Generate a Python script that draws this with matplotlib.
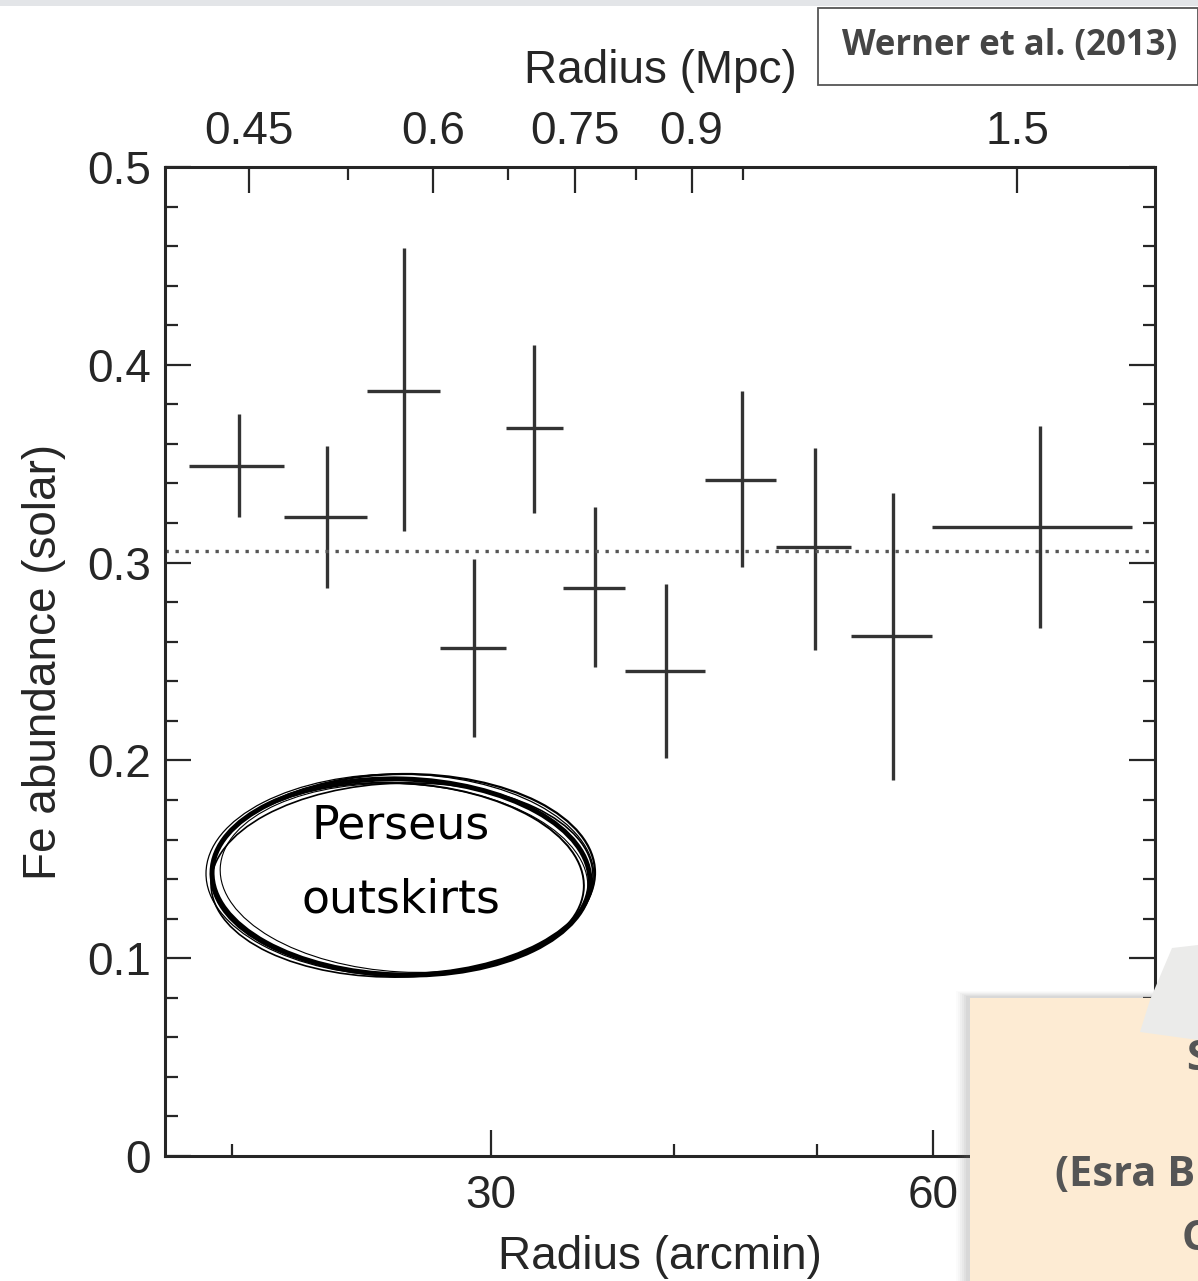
import numpy as np
import matplotlib.pyplot as plt
from matplotlib.patches import Ellipse, Rectangle, Polygon
from matplotlib.ticker import MultipleLocator, NullFormatter

# Fe abundance in radial bins (arcmin) for the Perseus outskirts
r_lo = [18.7, 21.7, 24.7, 27.7, 30.7, 33.6, 37.0, 42.0, 46.9, 52.8, 59.9]
r_hi = [21.7, 24.7, 27.7, 30.7, 33.6, 37.0, 42.0, 46.9, 52.8, 59.9, 82.0]
r_mid = [20.2, 23.2, 26.2, 29.2, 32.1, 35.3, 39.5, 44.5, 49.9, 56.4, 71.0]
fe = [0.349, 0.323, 0.387, 0.257, 0.368, 0.287, 0.245, 0.342, 0.308, 0.263, 0.318]
fe_lo = [0.323, 0.287, 0.316, 0.212, 0.325, 0.247, 0.201, 0.298, 0.256, 0.190, 0.267]
fe_hi = [0.375, 0.359, 0.459, 0.302, 0.410, 0.328, 0.289, 0.387, 0.358, 0.335, 0.369]
fe_mean = 0.306

arcmin_major = [30, 60]
arcmin_minor = [20, 40, 50, 70, 80]
mpc_major = [0.45, 0.6, 0.75, 0.9, 1.5]
mpc_minor = [0.525, 0.675, 0.825, 0.975]
mpc_per_arcmin = 0.0219
y_major = [0, 0.1, 0.2, 0.3, 0.4, 0.5]
y_labels = ['0', '0.1', '0.2', '0.3', '0.4', '0.5']

ink = '#262626'
plt.rcParams['font.family'] = ['Liberation Sans', 'DejaVu Sans']
plt.rcParams['font.size'] = 33

W, H = 1198, 1281
fig = plt.figure(figsize=(W / 100, H / 100), dpi=100)
ax = fig.add_axes([165 / W, 1 - 1156 / H, 990 / W, 989 / H])

r_mid = np.array(r_mid)
fe = np.array(fe)
xerr = [r_mid - np.array(r_lo), np.array(r_hi) - r_mid]
yerr = [fe - np.array(fe_lo), np.array(fe_hi) - fe]
ax.errorbar(r_mid, fe, xerr=xerr, yerr=yerr, fmt='none',
            ecolor='#333333', elinewidth=2.4, capsize=0)
ax.axhline(fe_mean, color='#555555', lw=2.4, ls=(0, (1, 2.0)))

ax.set_xscale('log')
ax.set_xlim(18, 85)
ax.set_ylim(0, 0.5)

ax.set_xticks(arcmin_major)
ax.set_xticklabels([str(v) for v in arcmin_major])
ax.set_xticks(arcmin_minor, minor=True)
ax.xaxis.set_minor_formatter(NullFormatter())
ax.set_yticks(y_major)
ax.set_yticklabels(y_labels)
ax.yaxis.set_minor_locator(MultipleLocator(0.02))

ax.tick_params(axis='x', which='both', direction='in', top=False, bottom=True,
               colors=ink, labelcolor=ink)
ax.tick_params(axis='x', which='major', length=19, width=1.6, pad=13)
ax.tick_params(axis='x', which='minor', length=9, width=1.6)
ax.tick_params(axis='y', which='both', direction='in', left=True, right=True,
               colors=ink, labelcolor=ink)
ax.tick_params(axis='y', which='major', length=19, width=1.6, pad=10)
ax.tick_params(axis='y', which='minor', length=9, width=1.6)
for s in ax.spines.values():
    s.set_linewidth(2.2)
    s.set_color(ink)

ax.set_xlabel('Radius (arcmin)', color=ink, labelpad=12)
ax.set_ylabel('Fe abundance (solar)', color=ink, labelpad=15)

# top axis in Mpc
ax2 = ax.twiny()
ax2.set_xscale('log')
ax2.set_xlim(ax.get_xlim())
ax2.set_xticks([m / mpc_per_arcmin for m in mpc_major])
ax2.set_xticklabels([f'{m:g}' for m in mpc_major])
ax2.set_xticks([m / mpc_per_arcmin for m in mpc_minor], minor=True)
ax2.xaxis.set_minor_formatter(NullFormatter())
ax2.tick_params(axis='x', which='both', direction='in', colors=ink, labelcolor=ink)
ax2.tick_params(axis='x', which='major', length=19, width=1.6, pad=9)
ax2.tick_params(axis='x', which='minor', length=9, width=1.6)
ax2.set_xlabel('Radius (Mpc)', color=ink, labelpad=20)
for s in ax2.spines.values():
    s.set_visible(False)

# hand-drawn oval note
cx, cy, ew, eh = 401, 877, 378, 196
strokes = [(0, 0, 0, 0, -1.5, 3.6), (2, -3, 6, 4, 0.5, 1.6),
           (-3, 2, -6, -4, -2.5, 1.4), (1, 3, 4, -2, 1.5, 1.2),
           (-1, -2, 10, 6, -0.5, 0.9), (3, 1, -10, -8, -3.0, 0.8)]
for dx, dy, dw, dh, ang, lw in strokes:
    fig.add_artist(Ellipse(((cx + dx) / W, 1 - (cy + dy) / H), (ew + dw) / W,
                           (eh + dh) / H, angle=ang, fill=False,
                           edgecolor='black', lw=lw, transform=fig.transFigure))
fig.text(401 / W, 1 - 826 / H, 'Perseus', ha='center', va='center',
         family='DejaVu Sans', fontsize=33, color='black')
fig.text(401 / W, 1 - 900 / H, 'outskirts', ha='center', va='center',
         family='DejaVu Sans', fontsize=33, color='black')

# reference box, top right
fig.add_artist(Rectangle((818 / W, 1 - 85 / H), 380 / W, 77 / H,
                         facecolor='white', edgecolor='#555555', lw=1.3,
                         transform=fig.transFigure))
fig.text(1010 / W, 1 - 46 / H, 'Werner et al. (2013)', ha='center', va='center',
         family='Open Sans', weight='bold', fontsize=25, color='#454545')

# thin grey strip along the top edge
fig.add_artist(Rectangle((0, 1 - 6 / H), 1, 6 / H, facecolor='#e3e5e8',
                         edgecolor='none', transform=fig.transFigure))

# note card, bottom right, with soft shadow
for i, a in enumerate([0.03, 0.04, 0.05, 0.06, 0.07, 0.08]):
    off = 14 - 2 * i
    fig.add_artist(Rectangle(((970 - off) / W, 0), (W - 970 + off) / W,
                             (H - 998 + off / 2) / H, facecolor='#808080', alpha=a,
                             edgecolor='none', transform=fig.transFigure, zorder=9))
fig.add_artist(Rectangle((970 / W, 0), (W - 970) / W, (H - 998) / H,
                         facecolor='#fdebd3', edgecolor='none',
                         transform=fig.transFigure, zorder=10))
fig.add_artist(Polygon([(1172 / W, 1 - 948 / H), (W / W, 1 - 945 / H),
                        (W / W, 1 - 1040 / H), (1140 / W, 1 - 1032 / H),
                        (1150 / W, 1 - 1000 / H)], closed=True,
                       facecolor='#ebebea', edgecolor='none',
                       transform=fig.transFigure, zorder=11))
fig.text(1055 / W, 1 - 1176 / H, '(Esra B', ha='left', va='center',
         family='Open Sans', weight='bold', fontsize=30, color='#555555', zorder=12)
fig.text(1186 / W, 1 - 1060 / H, 'S', ha='left', va='center',
         family='Open Sans', weight='bold', fontsize=30, color='#555555', zorder=12)
fig.text(1182 / W, 1 - 1240 / H, 'C', ha='left', va='center',
         family='Open Sans', weight='bold', fontsize=30, color='#555555', zorder=12)

fig.savefig('out.png', dpi=100)
